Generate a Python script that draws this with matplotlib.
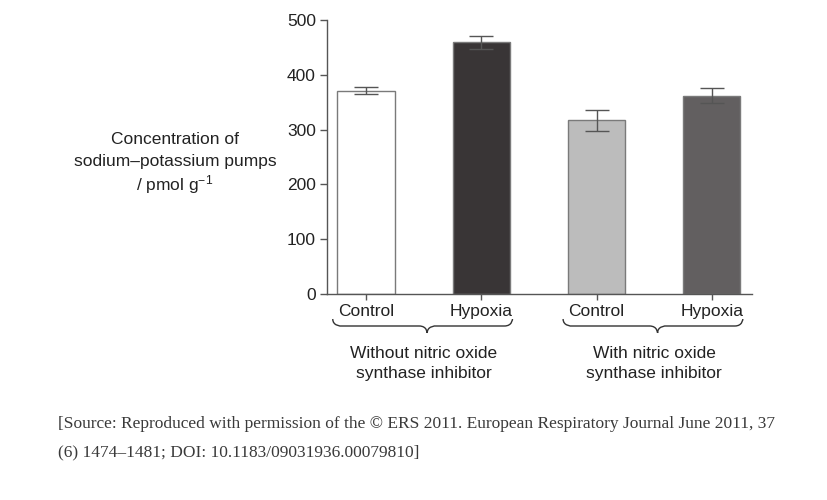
import matplotlib
matplotlib.use("Agg")
import matplotlib.pyplot as plt
from matplotlib.path import Path
from matplotlib.patches import PathPatch
import matplotlib.transforms as mtransforms

plt.rcParams['font.family'] = ['Liberation Sans', 'DejaVu Sans']
plt.rcParams['mathtext.fontset'] = 'custom'
plt.rcParams['mathtext.rm'] = 'Liberation Sans'
plt.rcParams['mathtext.it'] = 'Liberation Sans'

categories = ["Control", "Hypoxia", "Control", "Hypoxia"]
values = [371, 459, 317, 362]
errors = [6, 12, 19, 14]
bar_colors = ["#ffffff", "#393536", "#bcbcbc", "#625f60"]
groups = ["Without nitric oxide\nsynthase inhibitor", "With nitric oxide\nsynthase inhibitor"]
group_members = [(0, 1), (2, 3)]
yticks = [0, 100, 200, 300, 400, 500]
ylabel_lines = ["Concentration of", "sodium–potassium pumps", "/ pmol g$^{-1}$"]

FS = 12.5

fig = plt.figure(figsize=(8.28, 5.0), dpi=100)
ax = fig.add_axes([327/828, 1 - 294/500, (752-327)/828, (294-20)/500])

x = list(range(len(categories)))
ax.bar(x, values, width=0.5, color=bar_colors, edgecolor="#7a7a7a", linewidth=1.0, zorder=2)
ax.errorbar(x, values, yerr=errors, fmt='none', ecolor="#555555", elinewidth=1.0,
            capsize=8.5, capthick=1.0, zorder=3)

ax.set_xlim(-0.34, 3.35)
ax.set_ylim(0, 500)
ax.set_yticks(yticks)
ax.set_xticks(x)
ax.set_xticklabels(categories)
for s in ["top", "right"]:
    ax.spines[s].set_visible(False)
for s in ["left", "bottom"]:
    ax.spines[s].set_color("#555555")
    ax.spines[s].set_linewidth(1.0)
ax.tick_params(axis='y', direction='out', length=5, width=1, color="#555555",
               labelsize=FS, labelcolor="#222222", pad=3)
ax.tick_params(axis='x', direction='out', length=4, width=1, color="#555555",
               labelsize=FS, labelcolor="#222222", pad=3)

# braces
trans = mtransforms.blended_transform_factory(ax.transData, ax.transAxes)
def yf(py):
    return (294 - py) / 274.0

for (a, b), label in zip(group_members, groups):
    x0 = a - 0.29
    x1 = b + 0.27
    xc = (a + b) / 2 + 0.03
    yt, ym, yb = yf(319), yf(326), yf(333)
    d = 0.07
    verts = [(x0, yt), (x0, ym), (x0 + d, ym), (x0 + d, ym),
             (xc - d, ym),
             (xc, ym), (xc, yb), (xc, yb),
             (xc, ym), (xc + d, ym), (xc + d, ym),
             (x1 - d, ym),
             (x1, ym), (x1, yt), (x1, yt)]
    codes = [Path.MOVETO, Path.CURVE4, Path.CURVE4, Path.CURVE4,
             Path.LINETO,
             Path.CURVE4, Path.CURVE4, Path.CURVE4,
             Path.CURVE4, Path.CURVE4, Path.CURVE4,
             Path.LINETO,
             Path.CURVE4, Path.CURVE4, Path.CURVE4]
    patch = PathPatch(Path(verts, codes), transform=trans, fill=False,
                      edgecolor="#333333", linewidth=1.0, clip_on=False)
    ax.add_patch(patch)
    ax.text((a + b) / 2, yf(363.5), label, transform=trans, ha='center', va='center',
            fontsize=FS, color="#222222", linespacing=1.45)

for line, py in zip(ylabel_lines, [138, 160, 182]):
    fig.text(175/828, 1 - py/500, line, ha='center', va='center_baseline',
             fontsize=FS, color="#222222")

src_font = ['Liberation Serif', 'DejaVu Serif']
fig.text(58/828, 1 - 424/500,
         "[Source: Reproduced with permission of the © ERS 2011. European Respiratory Journal June 2011, 37",
         ha='left', va='center', fontsize=12.5, color="#3a3a3a", family=src_font)
fig.text(58/828, 1 - 452/500,
         "(6) 1474–1481; DOI: 10.1183/09031936.00079810]",
         ha='left', va='center', fontsize=12.5, color="#3a3a3a", family=src_font)

fig.savefig("out.png", dpi=100)
